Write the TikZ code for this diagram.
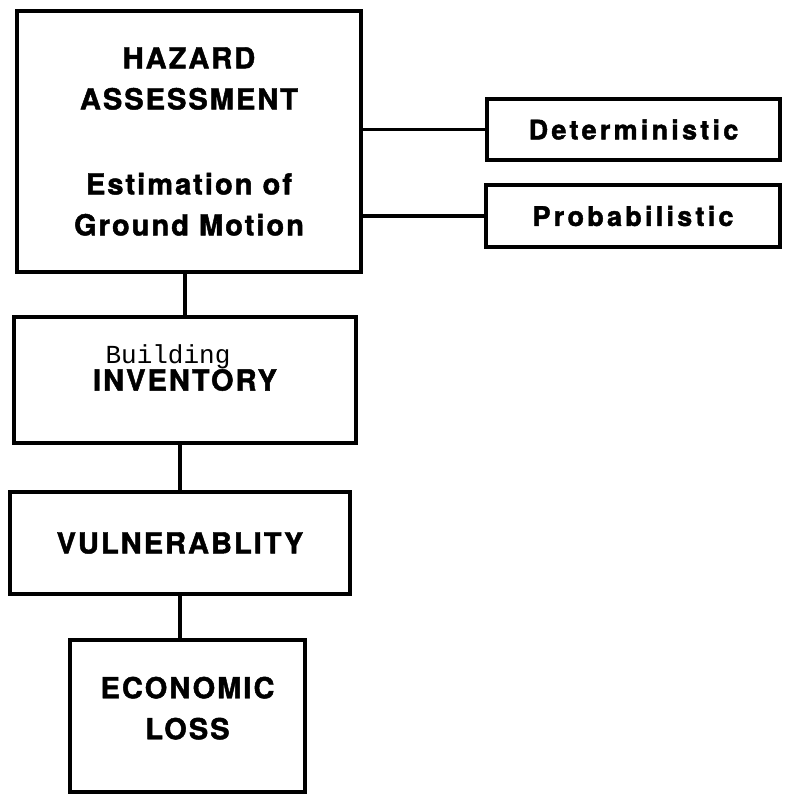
\documentclass[tikz,border=0pt]{standalone}
\usepackage{fontspec}
\setmainfont{TeX Gyre Heros}
\newfontfamily\boxfont{TeX Gyre Heros}[LetterSpace=7, BoldFeatures={FakeBold=1.6}]
\newfontfamily\sidefont{TeX Gyre Heros}[LetterSpace=12, BoldFeatures={FakeBold=1.6}]
\newfontfamily\monofont{Liberation Mono}
\begin{document}
\begin{tikzpicture}[x=1pt,y=-1pt,
  box/.style={draw, line width=4pt, align=center, inner sep=0pt},
  link/.style={line width=3.5pt},
  big/.style={font=\boxfont\bfseries\fontsize{29}{41}\selectfont},
  side/.style={font=\sidefont\bfseries\fontsize{27}{30}\selectfont}]
\useasboundingbox (0,0) rectangle (784,802);

\node[box, big, minimum width=344, minimum height=261] (hazard) at (189,141.5)
  {HAZARD\\ASSESSMENT\\[44pt]Estimation of\\Ground Motion};
\node[box, side, minimum width=293, minimum height=61] (det) at (633.5,129.5) {Deterministic};
\node[box, side, minimum width=294, minimum height=62] (prob) at (633,216) {Probabilistic};

\node[box, big, minimum width=342, minimum height=126] (inv) at (185,380) {INVENTORY};
\node[anchor=base, font=\monofont\fontsize{26}{30}\selectfont, inner sep=0pt] (bldg) at (168,363) {Building};

\node[box, big, minimum width=340, minimum height=102] (vul) at (180,543) {VULNERABLITY};
\node[box, big, minimum width=235, minimum height=152, text depth=16pt] (eco) at (187.5,716)
  {ECONOMIC\\LOSS};

\draw[link] (hazard.east |- det.west) -- (det.west);
\draw[link] (hazard.east |- prob.west) -- (prob.west);
\draw[link] (hazard.south -| inv) -- (inv.north);
\draw[link] (inv.south -| vul) -- (vul.north);
\draw[link] (vul.south) -- (vul.south |- eco.north);

\end{tikzpicture}
\end{document}
